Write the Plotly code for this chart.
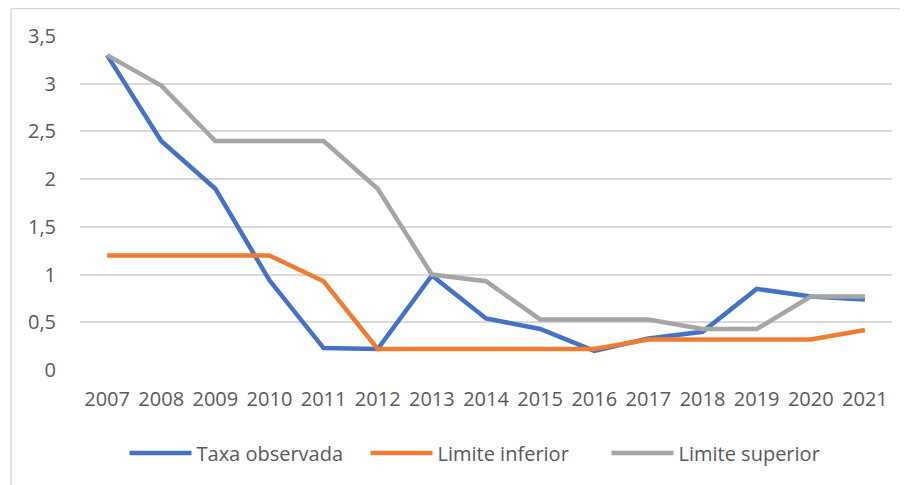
import plotly.graph_objects as go

anos = ["2007", "2008", "2009", "2010", "2011", "2012", "2013", "2014",
        "2015", "2016", "2017", "2018", "2019", "2020", "2021"]
taxa_observada = [3.30, 2.40, 1.90, 0.94, 0.23, 0.22, 0.99, 0.54,
                  0.43, 0.20, 0.33, 0.40, 0.85, 0.77, 0.74]
limite_inferior = [1.20, 1.20, 1.20, 1.20, 0.93, 0.22, 0.22, 0.22,
                   0.22, 0.22, 0.32, 0.32, 0.32, 0.32, 0.42]
limite_superior = [3.30, 2.98, 2.40, 2.40, 2.40, 1.90, 1.00, 0.93,
                   0.53, 0.53, 0.53, 0.43, 0.43, 0.77, 0.77]
y_ticks = [0, 0.5, 1, 1.5, 2, 2.5, 3, 3.5]
y_tick_labels = ["0", "0,5", "1", "1,5", "2", "2,5", "3", "3,5"]

FONT = "Open Sans"
TXT = "#595959"

# page is shown with an 8px body margin, so figure coords = page coords - 8
L, R, T, B = 72, 24, 28, 123
PH = 485 - T - B  # plot height
PW = 908 - L - R  # plot width

fig = go.Figure()
for name, vals, color in [
    ("Taxa observada", taxa_observada, "#4472C4"),
    ("Limite inferior", limite_inferior, "#ED7D31"),
    ("Limite superior", limite_superior, "#A5A5A5"),
]:
    fig.add_trace(go.Scatter(x=anos, y=vals, name=name, mode="lines",
                             line=dict(color=color, width=4.5)))

bx = (3 - L) / PW
by = (485 - B - 0.5) / PH

fig.update_layout(
    width=908, height=485,
    margin=dict(l=L, r=R, t=T, b=B, autoexpand=False),
    paper_bgcolor="white", plot_bgcolor="white",
    font=dict(family=FONT, size=19, color=TXT),
    showlegend=True,
    legend=dict(orientation="h", x=0.5, xanchor="center",
                y=(485 - B - 445) / PH, yanchor="middle",
                font=dict(size=20, color=TXT),
                itemwidth=62, entrywidth=164, traceorder="normal"),
    xaxis=dict(type="category", range=[-0.5, 14.5], showgrid=False,
               showline=False, zeroline=False, ticks="",
               tickfont=dict(size=20, color=TXT),
               ticklabelstandoff=15, fixedrange=True),
    yaxis=dict(range=[0, 3.5], tickvals=y_ticks, ticktext=y_tick_labels,
               showgrid=True, gridcolor="#D9D9D9", gridwidth=1.5,
               zeroline=False, showline=False, ticks="",
               tickfont=dict(size=20, color=TXT), ticklabelstandoff=23),
    shapes=[
        dict(type="line", xref="paper", yref="paper",
             x0=bx, x1=1.2, y0=by, y1=by,
             line=dict(color="#D9D9D9", width=1.5)),
        dict(type="line", xref="paper", yref="paper",
             x0=bx, x1=bx, y0=by, y1=-0.6,
             line=dict(color="#D9D9D9", width=1.5)),
    ],
)

fig.write_html("out.html")
